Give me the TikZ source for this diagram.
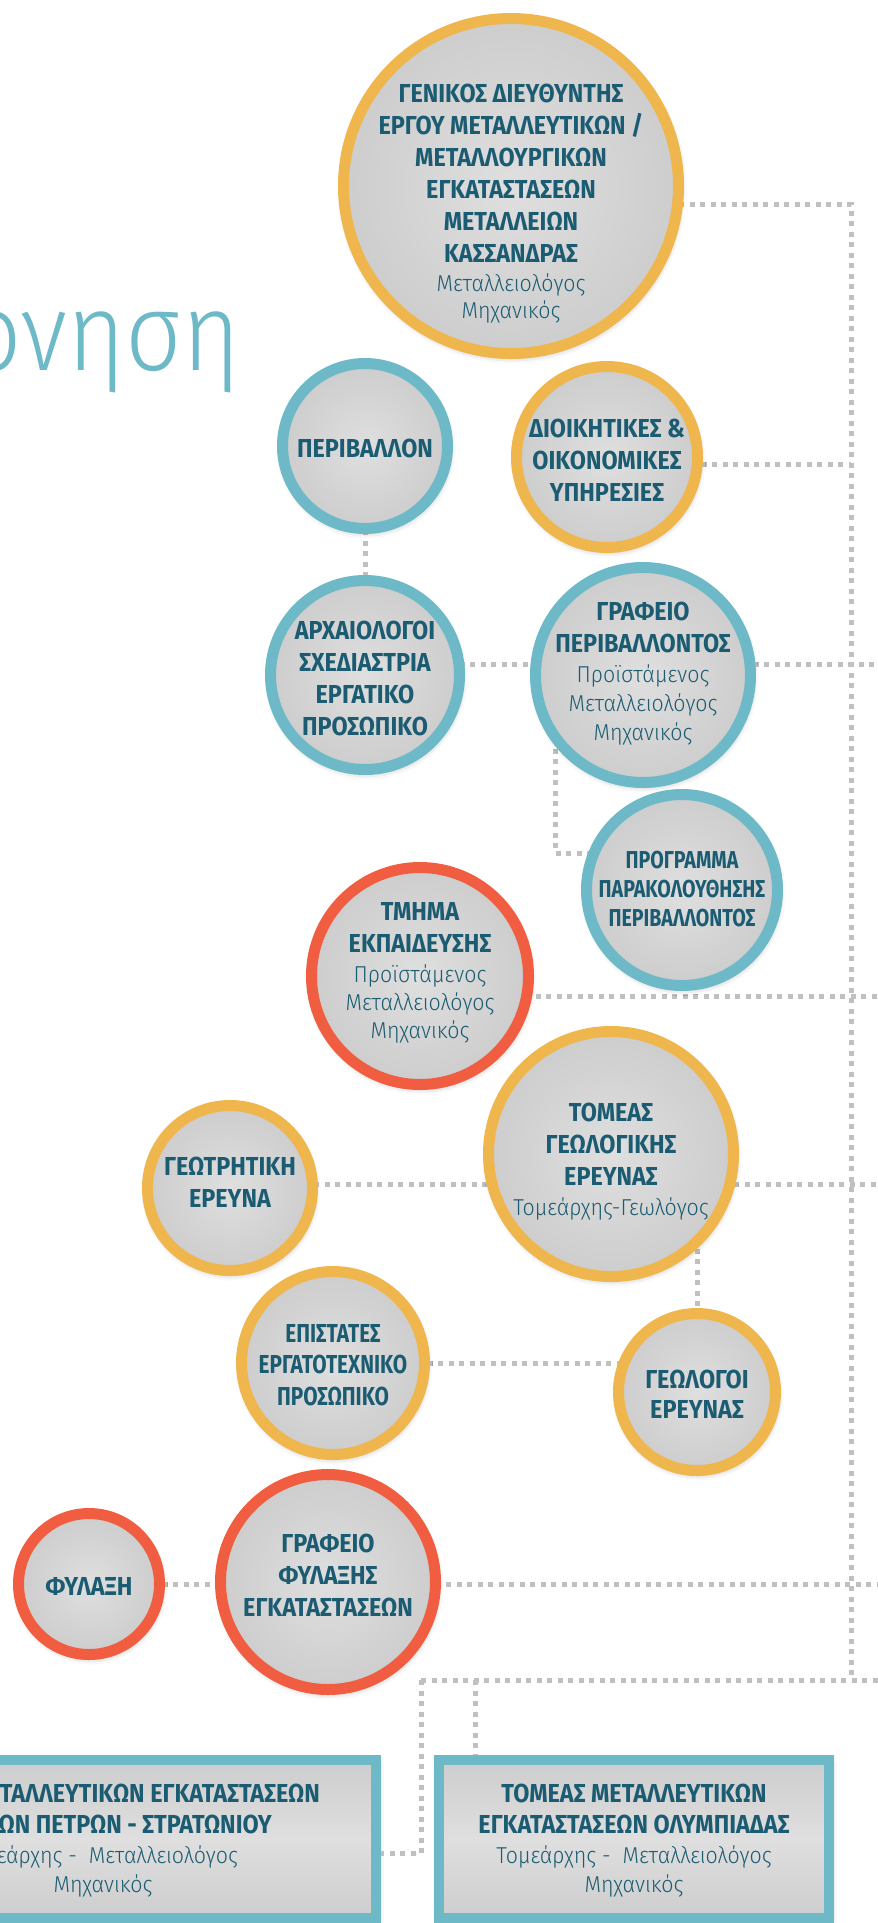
\documentclass[tikz,border=0pt]{standalone}
\usepackage{fontspec}
\setmainfont{Fira Sans}
\newfontfamily\bfont{Fira Sans Bold}[FakeStretch=0.9]
\newfontfamily\bfontn{Fira Sans Bold}[FakeStretch=0.8]
\newfontfamily\lfont{Fira Sans Light}[FakeStretch=0.93]
\newfontfamily\tfont{Fira Sans Light}[FakeStretch=0.9]
\usetikzlibrary{calc,shadows.blur}
\definecolor{orng}{HTML}{EFB64E}
\definecolor{tealc}{HTML}{6DB9C7}
\definecolor{redc}{HTML}{F05D40}
\definecolor{txt}{HTML}{1B5C72}
\definecolor{gin}{HTML}{DFDFDF}
\definecolor{gout}{HTML}{CDCDCD}
\definecolor{dotc}{HTML}{C0C0C0}
\newcommand\Bf{\bfont\fontsize{26}{32}\selectfont}
\newcommand\Bn{\bfontn\fontsize{26}{31.5}\selectfont}
\newcommand\Lf{\lfont\fontsize{23}{29}\selectfont}
\newcommand\tb[1]{\vtop{\halign{\hfil##\hfil\cr#1\crcr}}}
\tikzset{
  orb/.style={circle, line width=11pt, inner sep=0pt, minimum size=#1,
    shading=radial, inner color=gin, outer color=gout,
    blur shadow={shadow xshift=1pt, shadow yshift=-3pt, shadow blur radius=7pt, shadow opacity=35}},
  box/.style={rectangle, line width=10pt, draw=tealc, inner sep=0pt,
    top color=gout, bottom color=gout, middle color=gin,
    blur shadow={shadow xshift=1pt, shadow yshift=-3pt, shadow blur radius=7pt, shadow opacity=35}},
  lbl/.style={anchor=base, inner sep=0pt, text=txt, font=\Bf},
  conn/.style={draw=dotc, line width=5pt, dash pattern=on 5pt off 5.5pt},
}
\begin{document}
\begin{tikzpicture}[x=1pt,y=-1pt]
\useasboundingbox (0,0) rectangle (878,1923);
\clip (0,0) rectangle (878,1923);

% title fragment
\node (title) [anchor=base west, inner sep=0pt, text=tealc, font=\tfont\fontsize{110}{110}\selectfont] at (-35,370) {ονηση};

% node positions (centres) as coordinates for connectors
\coordinate (cgen) at (511,186);
\coordinate (cper) at (365,446);
\coordinate (cdio) at (607,457);
\coordinate (carx) at (365,675);
\coordinate (cgrp) at (643,675);
\coordinate (cprog) at (682,890);
\coordinate (ctmi) at (420,976);
\coordinate (ctom) at (611,1154);
\coordinate (cgeot) at (230,1188);
\coordinate (cepi) at (333,1363);
\coordinate (cgeol) at (697,1392);
\coordinate (cgrf) at (328,1582);
\coordinate (cfyl) at (89,1584);

% junctions
\coordinate (tTop) at (851,204);
\coordinate (jDio) at (851,464);
\coordinate (tBot) at (851,1680);
\coordinate (eGrp) at (880,664);
\coordinate (eTmi) at (880,996);
\coordinate (eTom) at (880,1184);
\coordinate (eGrf) at (880,1584);
\coordinate (eBot) at (880,1680);
\coordinate (kGP) at (555,853);
\coordinate (kL) at (421,1680);
\coordinate (kLb) at (421,1853);
\coordinate (kR) at (475,1680);

% boxes
\node (rectL) [box, minimum width=471pt, minimum height=158pt] at (140.5,1839) {};
\node (rectR) [box, minimum width=390pt, minimum height=158pt] at (634,1839) {};

% connectors
\draw[conn] ($(cgen)+(0,18)$) -- (tTop) -- (tBot);
\draw[conn] ($(cdio)+(0,7)$) -- (jDio);
\draw[conn] ($(carx)+(0,-11)$) -- (eGrp);
\draw[conn] (cper) -- (carx);
\draw[conn] (cgrp -| kGP) -- (kGP) -- (kGP -| cprog);
\draw[conn] ($(ctmi)+(0,20)$) -- (eTmi);
\draw[conn] ($(cgeot)+(0,-4)$) -- (eTom);
\draw[conn] (ctom -| cgeol) -- (cgeol);
\draw[conn] (cepi) -- (cepi -| cgeol);
\draw[conn] (cfyl) -- (eGrf);
\draw[conn] (kL) -- (eBot);
\draw[conn] (kL) -- (kLb) -- (kLb -| rectL.east);
\draw[conn] (kR) -- (kR |- rectR.north);

% circles
\node (gen) [orb=335pt, draw=orng] at (cgen) {};
\node (per) [orb=165pt, draw=tealc] at (cper) {};
\node (dio) [orb=181pt, draw=orng] at (cdio) {};
\node (arx) [orb=189pt, draw=tealc] at (carx) {};
\node (grp) [orb=215pt, draw=tealc] at (cgrp) {};
\node (prog) [orb=191pt, draw=tealc] at (cprog) {};
\node (tmi) [orb=217pt, draw=redc] at (ctmi) {};
\node (tom) [orb=245pt, draw=orng] at (ctom) {};
\node (geot) [orb=165pt, draw=orng] at (cgeot) {};
\node (epi) [orb=183pt, draw=orng] at (cepi) {};
\node (geol) [orb=157pt, draw=orng] at (cgeol) {};
\node (grf) [orb=215pt, draw=redc] at (cgrf) {};
\node (fyl) [orb=141pt, draw=redc] at (cfyl) {};

% texts
\node (genT) [lbl] at (511,102) {\tb{ΓΕΝΙΚΟΣ ΔΙΕΥΘΥΝΤΗΣ\cr ΕΡΓΟΥ ΜΕΤΑΛΛΕΥΤΙΚΩΝ /\cr ΜΕΤΑΛΛΟΥΡΓΙΚΩΝ\cr ΕΓΚΑΤΑΣΤΑΣΕΩΝ\cr ΜΕΤΑΛΛΕΙΩΝ\cr ΚΑΣΣΑΝΔΡΑΣ\cr\noalign{\vskip-3pt}\Lf Μεταλλειολόγος\cr\noalign{\vskip-5pt}\Lf Μηχανικός}};
\node (perT) [lbl] at (365,457) {ΠΕΡΙΒΑΛΛΟΝ};
\node (dioT) [lbl] at (607,437) {\tb{ΔΙΟΙΚΗΤΙΚΕΣ \&\cr ΟΙΚΟΝΟΜΙΚΕΣ\cr ΥΠΗΡΕΣΙΕΣ}};
\node (arxT) [lbl] at (365,639) {\tb{ΑΡΧΑΙΟΛΟΓΟΙ\cr ΣΧΕΔΙΑΣΤΡΙΑ\cr ΕΡΓΑΤΙΚΟ\cr ΠΡΟΣΩΠΙΚΟ}};
\node (grpT) [lbl] at (643,620) {\tb{ΓΡΑΦΕΙΟ\cr ΠΕΡΙΒΑΛΛΟΝΤΟΣ\cr\noalign{\vskip-2pt}\Lf Προϊστάμενος\cr\noalign{\vskip-3pt}\Lf Μεταλλειολόγος\cr\noalign{\vskip-3pt}\Lf Μηχανικός}};
\node (progT) [lbl, font=\bfontn\fontsize{24.5}{29}\selectfont] at (682,868) {\tb{ΠΡΟΓΡΑΜΜΑ\cr ΠΑΡΑΚΟΛΟΥΘΗΣΗΣ\cr ΠΕΡΙΒΑΛΛΟΝΤΟΣ}};
\node (tmiT) [lbl] at (420,920) {\tb{ΤΜΗΜΑ\cr ΕΚΠΑΙΔΕΥΣΗΣ\cr\noalign{\vskip-2pt}\Lf Προϊστάμενος\cr\noalign{\vskip-4pt}\Lf Μεταλλειολόγος\cr\noalign{\vskip-4pt}\Lf Μηχανικός}};
\node (tomT) [lbl] at (611,1121) {\tb{ΤΟΜΕΑΣ\cr ΓΕΩΛΟΓΙΚΗΣ\cr ΕΡΕΥΝΑΣ\cr\noalign{\vskip-2pt}\Lf Τομεάρχης-Γεωλόγος}};
\node (geotT) [lbl] at (230,1175) {\tb{ΓΕΩΤΡΗΤΙΚΗ\cr ΕΡΕΥΝΑ}};
\node (epiT) [lbl, font=\Bn] at (333,1342) {\tb{ΕΠΙΣΤΑΤΕΣ\cr ΕΡΓΑΤΟΤΕΧΝΙΚΟ\cr ΠΡΟΣΩΠΙΚΟ}};
\node (geolT) [lbl] at (697,1388) {\tb{ΓΕΩΛΟΓΟΙ\cr\noalign{\vskip-2pt} ΕΡΕΥΝΑΣ}};
\node (grfT) [lbl] at (328,1552) {\tb{ΓΡΑΦΕΙΟ\cr ΦΥΛΑΞΗΣ\cr ΕΓΚΑΤΑΣΤΑΣΕΩΝ}};
\node (fylT) [lbl] at (89,1595) {ΦΥΛΑΞΗ};
\node (rectRT) [lbl] at (634,1802) {\tb{ΤΟΜΕΑΣ ΜΕΤΑΛΛΕΥΤΙΚΩΝ\cr\noalign{\vskip-1pt} ΕΓΚΑΤΑΣΤΑΣΕΩΝ ΟΛΥΜΠΙΑΔΑΣ\cr\noalign{\vskip-2pt}\Lf Τομεάρχης -\ \ Μεταλλειολόγος\cr\noalign{\vskip-3pt}\Lf Μηχανικός}};
\node (rectLT1) [lbl, anchor=base east] at (320,1802) {ΤΑΛΛΕΥΤΙΚΩΝ ΕΓΚΑΤΑΣΤΑΣΕΩΝ};
\node (rectLT2) [lbl, anchor=base east] at (272,1833) {ΩΝ ΠΕΤΡΩΝ - ΣΤΡΑΤΩΝΙΟΥ};
\node (rectLT3) [lbl, anchor=base east, font=\Lf] at (238,1863) {εάρχης -\ \ Μεταλλειολόγος};
\node (rectLT4) [lbl, font=\Lf] at (103,1892) {Μηχανικός};
\end{tikzpicture}
\end{document}
